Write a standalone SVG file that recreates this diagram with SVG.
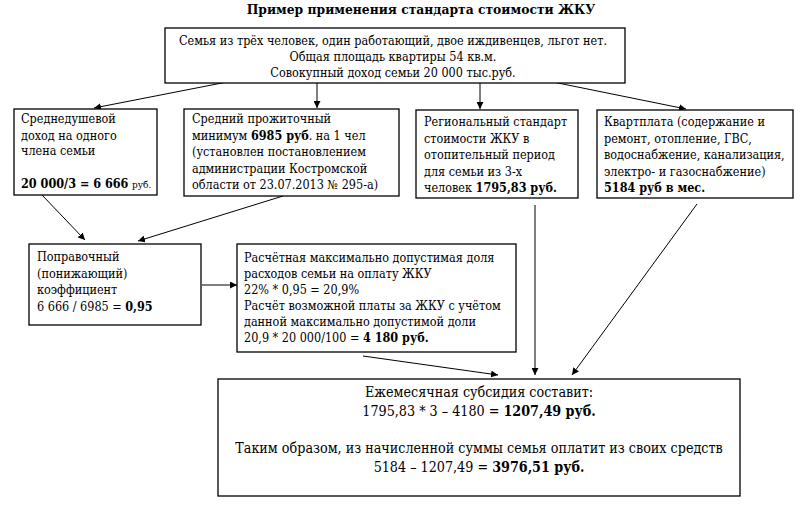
<svg xmlns="http://www.w3.org/2000/svg" width="803" height="517" viewBox="0 0 803 517">
<style>
text{font-family:'DejaVu Serif Condensed','DejaVu Serif',serif;font-stretch:condensed;font-size:12.5px;fill:#000}
.b{font-weight:bold}
.s{font-size:10px}
.big{font-size:14.2px}
.box{fill:#fff;stroke:#000;stroke-width:1.3}
.c{fill:none;stroke:#000;stroke-width:1}
</style>
<defs>
<marker id="ah" viewBox="0 0 10 10" refX="10" refY="5" markerWidth="7" markerHeight="7" markerUnits="userSpaceOnUse" orient="auto">
<path d="M0,0 L10,5 L0,10 z" fill="#000"/>
</marker>
</defs>
<rect width="803" height="517" fill="#fff"/>
<text id="title" class="b" x="421" y="14" text-anchor="middle" style="font-size:13.7px">Пример применения стандарта стоимости ЖКУ</text>

<g id="connectors">
<line class="c" x1="227" y1="82" x2="94" y2="108" marker-end="url(#ah)"/>
<line class="c" x1="317" y1="82" x2="317" y2="108" marker-end="url(#ah)"/>
<line class="c" x1="480" y1="82" x2="480" y2="109" marker-end="url(#ah)"/>
<line class="c" x1="553" y1="82" x2="686" y2="109" marker-end="url(#ah)"/>
<line class="c" x1="42" y1="195" x2="85" y2="240" marker-end="url(#ah)"/>
<line class="c" x1="283" y1="196" x2="138" y2="241" marker-end="url(#ah)"/>
<line class="c" x1="202" y1="285" x2="237" y2="285" marker-end="url(#ah)"/>
<line class="c" x1="363" y1="356" x2="498" y2="375" marker-end="url(#ah)"/>
<line class="c" x1="535" y1="205" x2="535" y2="375" marker-end="url(#ah)"/>
<line class="c" x1="697" y1="204" x2="572" y2="375" marker-end="url(#ah)"/>
</g>

<g id="family">
<rect class="box" x="165" y="28" width="460" height="55"/>
<text x="393" y="45" text-anchor="middle">Семья из трёх человек, один работающий, двое иждивенцев, льгот нет.</text>
<text x="393" y="61" text-anchor="middle">Общая площадь квартиры 54 кв.м.</text>
<text x="393" y="77" text-anchor="middle">Совокупный доход семьи 20 000 тыс.руб.</text>
</g>

<g id="income">
<rect class="box" x="14" y="109" width="143" height="86"/>
<text x="21" y="123">Среднедушевой</text>
<text x="21" y="139.5">доход на одного</text>
<text x="21" y="155">члена семьи</text>
<text x="21" y="188"><tspan class="b">20 000/3 = 6 666</tspan> <tspan class="s">руб.</tspan></text>
</g>

<g id="minimum">
<rect class="box" x="184" y="109" width="215" height="87"/>
<text x="192" y="123">Средний прожиточный</text>
<text x="192" y="139.5">минимум <tspan class="b">6985 руб</tspan>. на 1 чел</text>
<text x="192" y="156">(установлен постановлением</text>
<text x="192" y="172.5">администрации Костромской</text>
<text x="192" y="189">области от 23.07.2013  № 295-а)</text>
</g>

<g id="standard">
<rect class="box" x="416" y="110" width="162" height="88"/>
<text x="424" y="126">Региональный стандарт</text>
<text x="424" y="142.5">стоимости ЖКУ в</text>
<text x="424" y="159">отопительный период</text>
<text x="424" y="175.5">для семьи из 3-х</text>
<text x="424" y="192">человек <tspan class="b">1795,83 руб.</tspan></text>
</g>

<g id="rent">
<rect class="box" x="597" y="110" width="196" height="88"/>
<text x="604" y="126">Квартплата (содержание и</text>
<text x="604" y="142.5">ремонт, отопление, ГВС,</text>
<text x="604" y="159">водоснабжение, канализация,</text>
<text x="604" y="175.5">электро- и газоснабжение)</text>
<text class="b" x="604" y="192">5184 руб в мес.</text>
</g>

<g id="coef">
<rect class="box" x="29" y="244" width="172" height="81"/>
<text x="37" y="261">Поправочный</text>
<text x="37" y="277.5">(понижающий)</text>
<text x="37" y="294">коэффициент</text>
<text x="37" y="310.5">6 666 / 6985 = <tspan class="b">0,95</tspan></text>
</g>

<g id="share">
<rect class="box" x="237" y="244" width="279" height="108"/>
<text x="244" y="262">Расчётная максимально допустимая доля</text>
<text x="244" y="278">расходов семьи на оплату ЖКУ</text>
<text x="244" y="294">22% * 0,95 = 20,9%</text>
<text x="244" y="310">Расчёт возможной платы за ЖКУ с учётом</text>
<text x="244" y="326">данной максимально допустимой доли</text>
<text x="244" y="342">20,9 * 20 000/100 = <tspan class="b">4 180 руб.</tspan></text>
</g>

<g id="subsidy">
<rect class="box" x="218" y="379" width="522" height="117"/>
<text class="big" x="479" y="397" text-anchor="middle">Ежемесячная субсидия составит:</text>
<text class="big" x="479" y="416" text-anchor="middle">1795,83 * 3 – 4180 = <tspan class="b">1207,49 руб.</tspan></text>
<text class="big" x="479" y="453" text-anchor="middle">Таким образом, из начисленной суммы семья оплатит из своих средств</text>
<text class="big" x="479" y="472" text-anchor="middle">5184 – 1207,49 = <tspan class="b">3976,51 руб.</tspan></text>
</g>
</svg>
